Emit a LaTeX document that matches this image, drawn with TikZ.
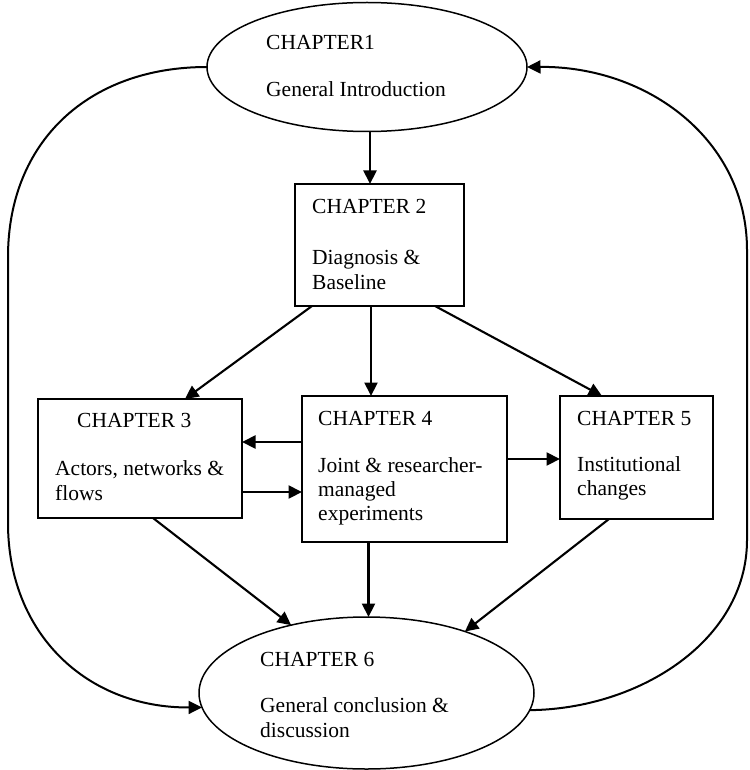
\documentclass[tikz,border=0pt]{standalone}
\usepackage{fontspec}
\setmainfont{Liberation Serif}
\usetikzlibrary{shapes.geometric,arrows.meta,calc}
\begin{document}
\begin{tikzpicture}[x=1pt,y=-1pt,
  chbox/.style={draw,rectangle,line width=1.9pt,inner sep=0pt,outer sep=0pt},
  chell/.style={draw,ellipse,line width=1.5pt,inner sep=0pt,outer sep=0pt},
  txt/.style={anchor=base west,inner sep=0pt,font=\fontsize{21.5}{24.5}\selectfont},
  tip/.style={-{Triangle[length=13.5pt,width=13pt]}},
  arr/.style={line width=2.1pt,tip},
  loopline/.style={line width=2pt}]
\useasboundingbox (0,0) rectangle (749,770);
% shapes
\node[chell,minimum width=320pt,minimum height=129pt] (e1) at (367,67) {};
\node[chbox,minimum width=169pt,minimum height=122pt] (c2) at (379.5,245) {};
\node[chbox,minimum width=204pt,minimum height=119pt] (c3) at (140,458.5) {};
\node[chbox,minimum width=205pt,minimum height=146pt] (c4) at (404.5,469) {};
\node[chbox,minimum width=153pt,minimum height=123pt] (c5) at (636.5,457.5) {};
\node[chell,minimum width=335pt,minimum height=152pt] (e6) at (366.5,693) {};
% texts
\node[txt] (t1a) at (266,50) {CHAPTER1};
\node[txt] (t1b) at (266,97) {General Introduction};
\node[txt] (t2a) at (312,213) {CHAPTER 2};
\node[txt] (t2b) at (312,264) {Diagnosis \&};
\node[txt] (t2c) at (312,289) {Baseline};
\node[txt] (t3a) at (77,427) {CHAPTER 3};
\node[txt] (t3b) at (55,475) {Actors, networks \&};
\node[txt] (t3c) at (55,500) {flows};
\node[txt] (t4a) at (318,425) {CHAPTER 4};
\node[txt] (t4b) at (318,472) {Joint \& researcher-};
\node[txt] (t4c) at (318,496) {managed};
\node[txt] (t4d) at (318,520) {experiments};
\node[txt] (t5a) at (577,425) {CHAPTER 5};
\node[txt] (t5b) at (577,471) {Institutional};
\node[txt] (t5c) at (577,495) {changes};
\node[txt] (t6a) at (260,666) {CHAPTER 6};
\node[txt] (t6b) at (260,712) {General conclusion \&};
\node[txt] (t6c) at (260,737) {discussion};
% connector end points on the shapes
\coordinate (p12) at ($(c2.north)+(-9.5,0)$);
\coordinate (p24) at ($(c2.south west)+(76,0)$);
\coordinate (p46) at ($(c4.south west)+(66.5,0)$);
% straight connectors
\draw[arr] (p12 |- e1.south) -- (p12);
\draw[arr] ($(c2.south west)+(17,0)$) -- ($(c3.north west)+(147,0)$);
\draw[arr] (p24) -- (p24 |- c4.north);
\draw[arr] ($(c2.south west)+(140,0)$) -- ($(c5.north west)+(42,0)$);
\draw[arr] ($(c4.north west)+(0,46)$) -- ($(c3.north east)+(0,43)$);
\draw[arr] ($(c3.north east)+(0,93)$) -- ($(c4.north west)+(0,96)$);
\draw[arr] ($(c4.north east)+(0,63)$) -- ($(c5.north west)+(0,63)$);
\draw[arr] ($(c3.south west)+(115,0)$) -- (e6.138);
\draw[arr] (p46) -- (p46 |- e6.north);
\draw[arr] ($(c5.south west)+(49,0)$) -- (e6.32);
% loops
\coordinate (lt) at (8,257);
\coordinate (lb) at (8,523);
\coordinate (rb) at (747,540);
\coordinate (rt) at (747,250);
\draw[loopline,tip] (e1.west) .. controls (88,67) and (8,142) .. (lt) -- (lb) .. controls (8,634) and (87,708) .. (e6.185);
\draw[loopline,tip] (e6.354) .. controls (640,709) and (747,640) .. (rb) -- (rt) .. controls (747,140) and (648,66) .. (e1.east);
\end{tikzpicture}
\end{document}
